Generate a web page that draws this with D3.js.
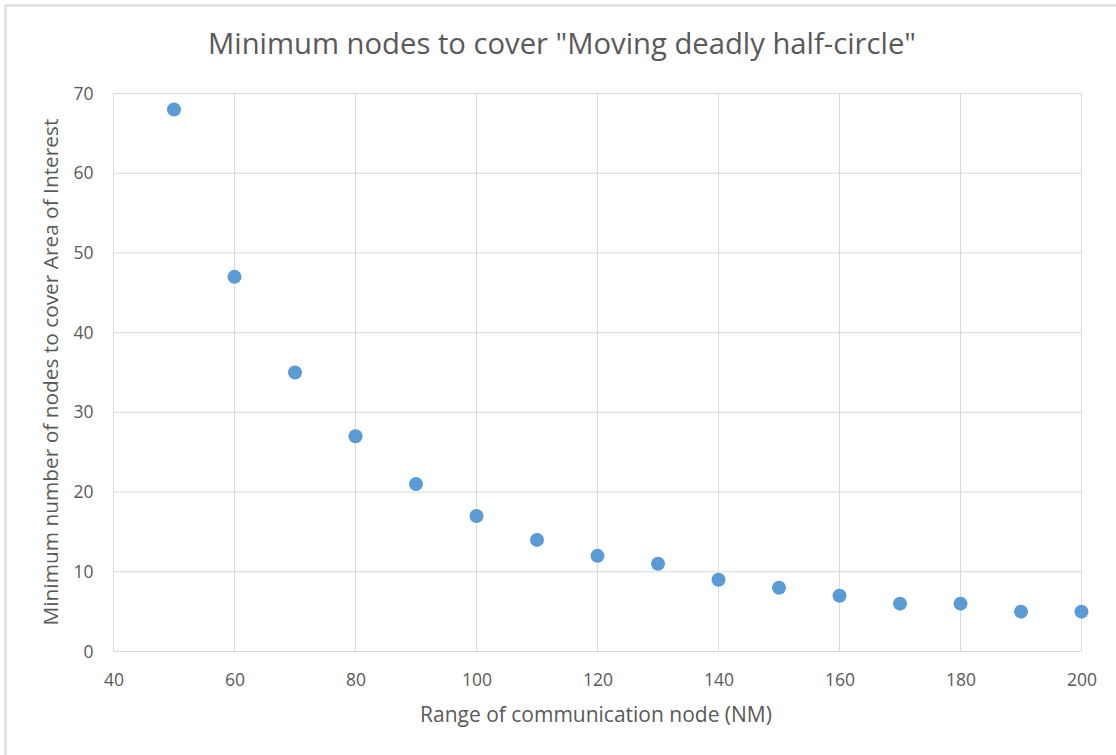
<!DOCTYPE html>
<html><head><meta charset="utf-8">
<script src="https://cdn.jsdelivr.net/npm/d3@7"></script>
<style>body{margin:0;background:#fff}svg{display:block}text{font-family:"Open Sans","Noto Sans",sans-serif}</style>
</head><body>
<svg id="c" width="1116" height="755"></svg>
<script>
const rangeNM = [50,60,70,80,90,100,110,120,130,140,150,160,170,180,190,200];
const minNodes = [68,47,35,27,21,17,14,12,11,9,8,7,6,6,5,5];
const xTicks = [40,60,80,100,120,140,160,180,200];
const yTicks = [0,10,20,30,40,50,60,70];
const titleText = 'Minimum nodes to cover "Moving deadly half-circle"';
const xTitle = 'Range of communication node (NM)';
const yTitle = 'Minimum number of nodes to cover Area of Interest';

const svg = d3.select('#c');
svg.append('rect').attr('x',5.5).attr('y',5.5).attr('width',1200).attr('height',800)
  .attr('fill','#fff').attr('stroke','#d9d9d9').attr('stroke-width',2);

const x = d3.scaleLinear().domain([40,200]).range([113.5,1081.5]);
const y = d3.scaleLinear().domain([0,70]).range([651.5,93.5]);

const g = svg.append('g');
g.selectAll('.vg').data(xTicks).join('line').attr('x1',d=>x(d)).attr('x2',d=>x(d))
  .attr('y1',y(0)).attr('y2',y(70)).attr('stroke','#d9d9d9').attr('stroke-width',1);
g.selectAll('.hg').data(yTicks).join('line').attr('y1',d=>y(d)).attr('y2',d=>y(d))
  .attr('x1',x(40)).attr('x2',x(200)).attr('stroke','#d9d9d9').attr('stroke-width',1);

const xAxis = svg.append('g').attr('transform',`translate(0,${y(0)})`)
  .call(d3.axisBottom(x).tickValues(xTicks).tickSize(0).tickPadding(0));
const yAxis = svg.append('g').attr('transform',`translate(${x(40)},0)`)
  .call(d3.axisLeft(y).tickValues(yTicks).tickSize(0).tickPadding(20));
[xAxis,yAxis].forEach(a=>{
  a.select('.domain').remove();
  a.selectAll('text').attr('fill','#595959').style('font-size','17.5px').style('font-family','"Open Sans",sans-serif');
});
xAxis.selectAll('text').attr('y',28).attr('dy','0.35em');

function fit(sel, target, size){
  sel.style('font-size', size+'px');
  const w = sel.node().getComputedTextLength();
  sel.style('font-size', (size*target/w).toFixed(2)+'px');
}
const t = svg.append('text').attr('x',562).attr('y',54).attr('text-anchor','middle')
  .attr('fill','#595959').text(titleText);
fit(t, 708, 24);
const xt = svg.append('text').attr('x',596).attr('y',722).attr('text-anchor','middle')
  .attr('fill','#595959').text(xTitle);
fit(xt, 352, 16);
const yt = svg.append('text').attr('transform','translate(58,372) rotate(-90)').attr('text-anchor','middle')
  .attr('fill','#595959').text(yTitle);
fit(yt, 507, 16);

svg.append('g').selectAll('circle').data(rangeNM).join('circle')
  .attr('cx',d=>x(d)).attr('cy',(d,i)=>y(minNodes[i])).attr('r',7).attr('fill','#5b9bd5');
</script>
</body></html>
